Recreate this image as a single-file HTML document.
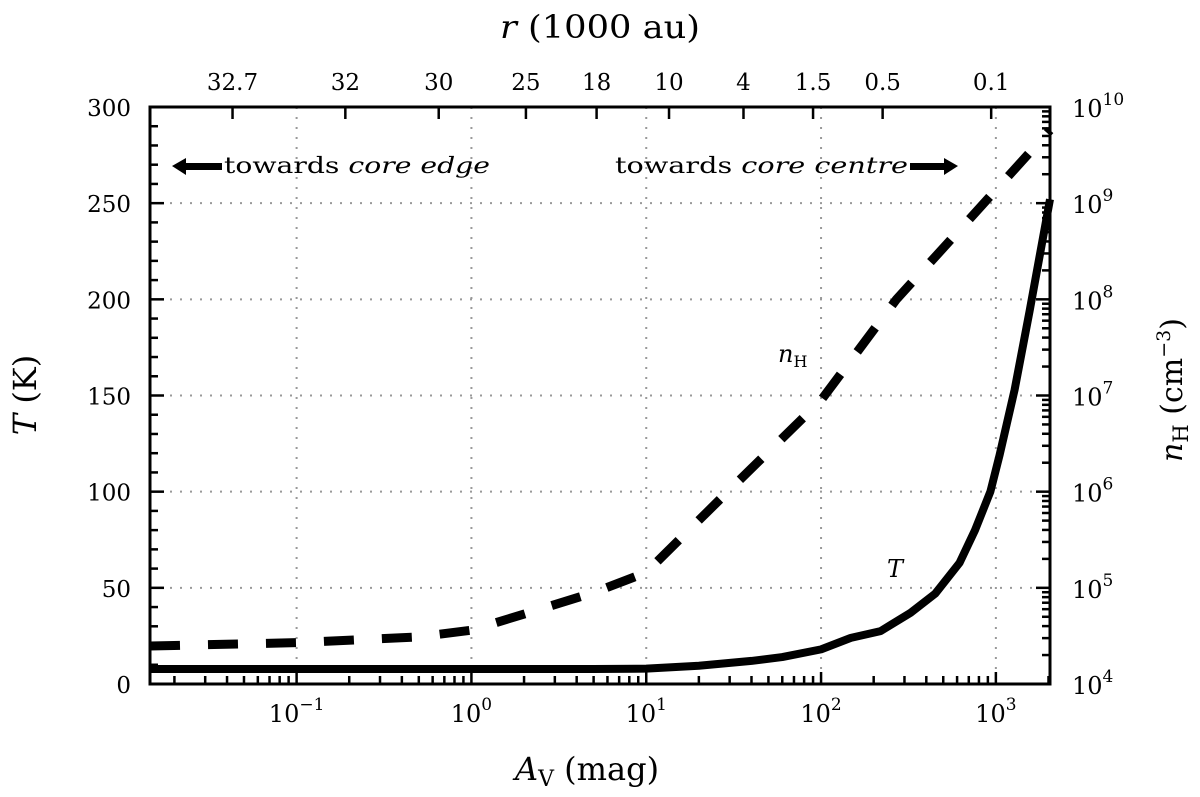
<!DOCTYPE html>
<html><head><meta charset="utf-8"><style>
body{margin:0;background:#fff}
svg text{font-family:"DejaVu Serif","Liberation Serif",serif;fill:#000}
</style></head><body>
<svg width="1200" height="792" xmlns="http://www.w3.org/2000/svg">
<g id="grid"></g>
<g id="ticks"></g>
<g id="series"></g>
<rect x="150" y="107" width="900" height="577" fill="none" stroke="#000" stroke-width="3"/>
<text x="500" y="38" font-size="32" textLength="200" lengthAdjust="spacingAndGlyphs"><tspan font-style="italic">r</tspan> (1000 au)</text>
<text x="515" y="780" font-size="32"><tspan font-style="italic">A</tspan><tspan font-size="22" dy="6">V</tspan><tspan dy="-6"> (mag)</tspan></text>
<text transform="translate(36,395) rotate(-90)" font-size="32" text-anchor="middle"><tspan font-style="italic">T</tspan> (K)</text>
<text transform="translate(1182,390) rotate(-90)" font-size="30" text-anchor="middle"><tspan font-style="italic">n</tspan><tspan font-size="21" dy="6">H</tspan><tspan dy="-6"> (cm</tspan><tspan font-size="19" dy="-12">−3</tspan><tspan dy="12">)</tspan></text>
<g>
<polygon points="172,166 186,158 186,163 222,163 222,170 186,170 186,175" fill="#000"/>
<text x="224" y="173" font-size="22" textLength="266" lengthAdjust="spacingAndGlyphs">towards <tspan font-style="italic">core edge</tspan></text>
</g>
<g>
<text x="615" y="173" font-size="22" textLength="293" lengthAdjust="spacingAndGlyphs">towards <tspan font-style="italic">core centre</tspan></text>
<polygon points="910,163 944,163 944,158 958,166 944,175 944,170 910,170" fill="#000"/>
</g>
<text x="778" y="362" font-size="24" font-style="italic">n<tspan font-size="16" dy="5" font-style="normal">H</tspan></text>
<text x="887" y="577" font-size="24" font-style="italic">T</text>
</svg>
<script>
const avT=[0.0145,0.1,1,5,10,20,40,60,100,148,219,325,450,620,760,930,1050,1280,1560,2040];
const tempK=[7.8,7.8,7.8,7.8,8,9.5,12,14,18,24,27.5,37,47,63,80,100,119,153,194,252];
const avN=[0.0145,0.1,0.5,1,2.2,5,10,30,100,270,620,2040];
const nHlog=[4.395,4.43,4.49,4.56,4.75,4.95,5.16,6.02,6.95,8.0,8.72,9.76];
const yTicksL=[0,50,100,150,200,250,300];
const yTicksR=[4,5,6,7,8,9,10];
const xDecades=[-1,0,1,2,3];
const topLabels=["32.7","32","30","25","18","10","4","1.5","0.5","0.1"];
const topAv=[0.043,0.19,0.65,2.05,5.2,13.5,36,90,225,940];
const NS="http://www.w3.org/2000/svg";
const L=150,R=1050,T=107,B=684;
const lmin=Math.log10(0.0145),lmax=Math.log10(2040);
const X=a=>L+(Math.log10(a)-lmin)/(lmax-lmin)*(R-L);
const YL=v=>B-v/300*(B-T);
const YR=l=>B-(l-4)/6*(B-T);
function mk(tag,attrs,parent){const e=document.createElementNS(NS,tag);for(const k in attrs)e.setAttribute(k,attrs[k]);document.getElementById(parent).appendChild(e);return e;}
xDecades.forEach(d=>{const x=X(Math.pow(10,d));const g=mk('line',{x1:x,x2:x,y1:T,y2:B,stroke:'#999','stroke-width':2,'stroke-dasharray':'2,8'},'grid');

});
yTicksL.slice(1,-1).forEach(v=>{const y=YL(v);const g=mk('line',{x1:L,x2:R,y1:y,y2:y,stroke:'#999','stroke-width':2,'stroke-dasharray':'2,8'},'grid');

});
for(let d=-2;d<=3;d++){for(let m=1;m<10;m++){const a=m*Math.pow(10,d);if(a<0.0145||a>2040)continue;const x=X(a);const len=m==1?12:8;
mk('line',{x1:x,x2:x,y1:B,y2:B-len,stroke:'#000','stroke-width':2.5},'ticks');}}
xDecades.forEach(d=>{const x=X(Math.pow(10,d));const t=mk('text',{x:x,y:722,'font-size':24,'text-anchor':'middle'},'ticks');
t.innerHTML='10<tspan font-size="17" dy="-12">'+(d<0?'−1':d)+'</tspan>';

});
topAv.forEach((a,i)=>{const x=X(a);mk('line',{x1:x,x2:x,y1:T,y2:T+12,stroke:'#000','stroke-width':2.5},'ticks');
const t=mk('text',{x:x,y:90,'font-size':23,'text-anchor':'middle'},'ticks');t.textContent=topLabels[i];

});
for(let v=0;v<=300;v+=10){const y=YL(v);const len=v%50==0?14:8;mk('line',{x1:L,x2:L+len,y1:y,y2:y,stroke:'#000','stroke-width':2.5},'ticks');}
yTicksL.forEach(v=>{const t=mk('text',{x:131,y:YL(v)+9,'font-size':23,'text-anchor':'end'},'ticks');t.textContent=v;

});
for(let d=4;d<=10;d++){for(let m=1;m<10;m++){const l=d+Math.log10(m);if(l>10)continue;const y=YR(l);const len=m==1?14:8;mk('line',{x1:R,x2:R-len,y1:y,y2:y,stroke:'#000','stroke-width':2.5},'ticks');}}
yTicksR.forEach(d=>{const t=mk('text',{x:1072,y:YR(d)+10,'font-size':24},'ticks');t.innerHTML='10<tspan font-size="17" dy="-12">'+d+'</tspan>';

});
const pT=avT.map((a,i)=>X(a)+','+YL(tempK[i])).join(' ');
const s1=mk('polyline',{points:pT,fill:'none',stroke:'#000','stroke-width':8,'stroke-linejoin':'round'},'series');


const pN=avN.map((a,i)=>X(a)+','+YR(nHlog[i])).join(' ');
const s2=mk('polyline',{points:pN,fill:'none',stroke:'#000','stroke-width':9,'stroke-dasharray':'30,28'},'series');


</script>
</body></html>
